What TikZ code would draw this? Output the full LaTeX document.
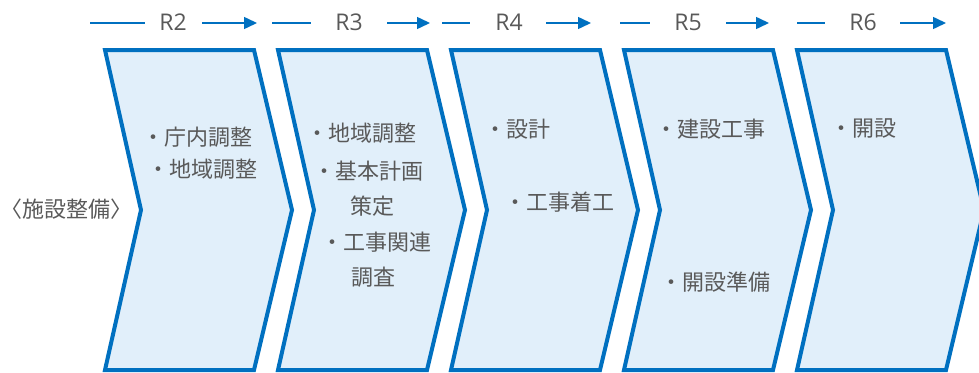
\documentclass[tikz,border=0pt]{standalone}
\usepackage{fontspec}
\setmainfont{Noto Sans CJK JP}
\newfontfamily\latinfont{Open Sans}
\usetikzlibrary{arrows.meta}
\definecolor{chevblue}{HTML}{0070C0}
\definecolor{chevfill}{HTML}{E1EFFA}
\definecolor{txtgray}{HTML}{595959}
\tikzset{
  chev/.style={draw=chevblue, fill=chevfill, line width=4pt, line join=miter},
  jp/.style={text=txtgray, font=\fontsize{22}{26}\selectfont, inner sep=0pt, anchor=base west},
  rlab/.style={text=txtgray, font=\latinfont\fontsize{23}{26}\selectfont, inner sep=0pt},
  rline/.style={draw=chevblue, line width=1.5pt},
  rarrow/.style={draw=chevblue, line width=1.5pt, -{Triangle[length=13pt,width=12pt]}}
}
\begin{document}
\begin{tikzpicture}[x=1pt,y=-1pt]
\useasboundingbox (0,0) rectangle (979,372);
\clip (0,0) rectangle (979,372);
% chevrons
\foreach \x in {103,276,449,622,795}{
  \draw[chev] (\x+2,50) -- (\x+151,50) -- (\x+189,210) -- (\x+151,370) -- (\x+2,370) -- (\x+38,210) -- cycle;
}
% top year arrows
\foreach \a/\b/\t/\c/\d/\n in {90/145/173/202/257/2, 272/311/349/387/430/3, 442/470/509/546/591/4, 620/650/688/726/769/5, 797/825/863/900/946/6}{
  \coordinate (ls\n) at (\a,23);
  \coordinate (le\n) at (\b,23);
  \coordinate (as\n) at (\c,23);
  \coordinate (ae\n) at (\d,23);
  \node[rlab] (r\n) at (\t,22) {R\n};
  \draw[rline] (ls\n) -- (le\n);
  \draw[rarrow] (as\n) -- (ae\n);
}
% left label
\node[text=txtgray, font=\fontsize{22}{26}\selectfont, inner sep=0pt, anchor=base] (lab) at (67,217) {〈施設整備〉};
% chevron 1
\node[jp] (c1a) at (142,145) {・庁内調整};
\node[jp] (c1b) at (147,177) {・地域調整};
% chevron 2
\node[jp] (c2a) at (306,141) {・地域調整};
\node[jp] (c2b) at (313,179) {・基本計画};
\node[jp] (c2c) at (350,214) {策定};
\node[jp] (c2d) at (321,250) {・工事関連};
\node[jp] (c2e) at (351,285) {調査};
% chevron 3
\node[jp] (c3a) at (484,137) {・設計};
\node[jp] (c3b) at (504,210) {・工事着工};
% chevron 4
\node[jp] (c4a) at (655,137) {・建設工事};
\node[jp] (c4b) at (660,290) {・開設準備};
% chevron 5
\node[jp] (c5a) at (830,136) {・開設};
\end{tikzpicture}
\end{document}
